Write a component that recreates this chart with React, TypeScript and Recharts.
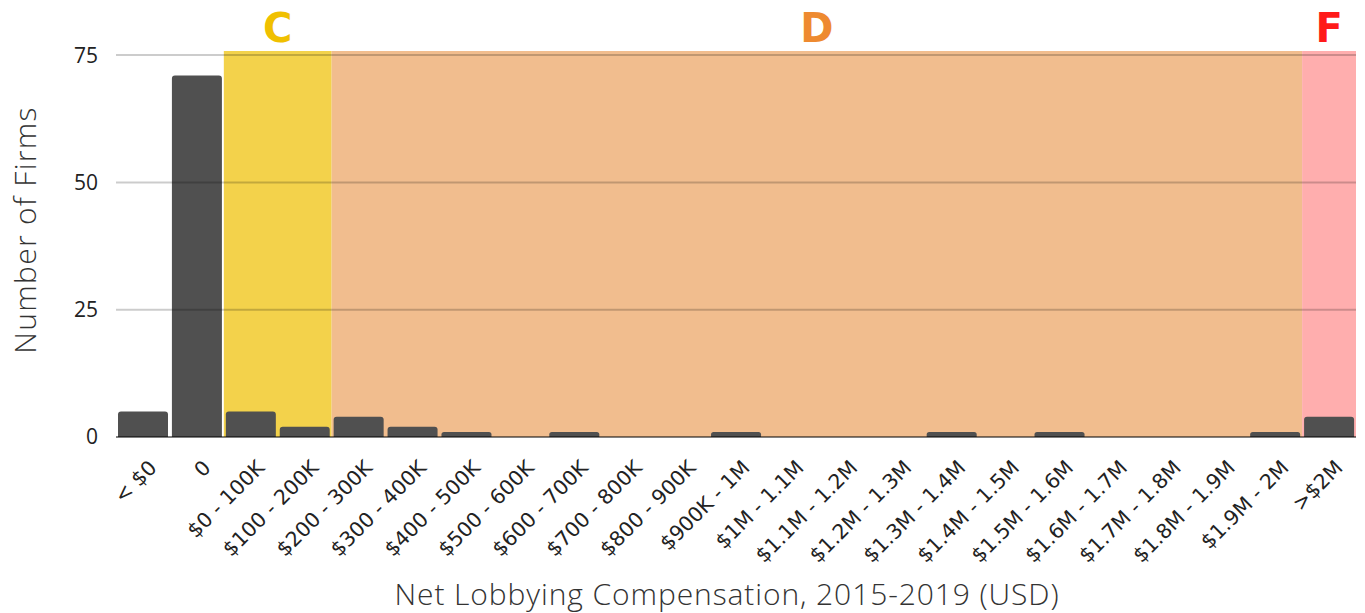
import React from 'react';
import { BarChart, Bar, XAxis, YAxis, ReferenceArea, ReferenceLine, Label } from 'recharts';

// compensation buckets shown on the x axis
const categories = [
  '< $0', '0', '$0 - 100K', '$100 - 200K', '$200 - 300K', '$300 - 400K', '$400 - 500K',
  '$500 - 600K', '$600 - 700K', '$700 - 800K', '$800 - 900K', '$900K - 1M', '$1M - 1.1M',
  '$1.1M - 1.2M', '$1.2M - 1.3M', '$1.3M - 1.4M', '$1.4M - 1.5M', '$1.5M - 1.6M',
  '$1.6M - 1.7M', '$1.7M - 1.8M', '$1.8M - 1.9M', '$1.9M - 2M', '>$2M',
];

const firmCounts = [5, 71, 5, 2, 4, 2, 1, 0, 1, 0, 0, 1, 0, 0, 0, 1, 0, 1, 0, 0, 0, 1, 4];

const yTicks = [0, 25, 50, 75];

// grade bands: first and last bucket covered
const gradeBands = [
  { grade: 'C', from: '$0 - 100K', to: '$100 - 200K', fill: '#f3d24b', text: '#f0c000' },
  { grade: 'D', from: '$200 - 300K', to: '$1.9M - 2M', fill: '#f1bd8e', text: '#ee8a30' },
  { grade: 'F', from: '>$2M', to: '>$2M', fill: '#ffaeae', text: '#ff1a1a' },
];

const data = categories.map((c, i) => ({ bucket: c, firms: firmCounts[i] }));

const TICK_FONT = '"DejaVu Sans", sans-serif';
const TITLE_FONT = '"Open Sans", sans-serif';

const AngledTick = (props: any) => {
  const { x, y, payload } = props;
  return (
    <g transform={`translate(${x + 15},${y + 32})`}>
      <text textAnchor="end" transform="rotate(-45)" fontSize={20.5} fill="#222" fontFamily={TICK_FONT}>
        {payload.value}
      </text>
    </g>
  );
};

const YTitle = (props: any) => {
  const { viewBox } = props;
  const x = viewBox.x + 28;
  const y = viewBox.y + viewBox.height / 2 - 14;
  return (
    <text x={x} y={y} transform={`rotate(-90, ${x}, ${y})`} textAnchor="middle"
      fontSize={30} fontWeight={300} letterSpacing={1.3} fill="#333" fontFamily={TITLE_FONT}>
      Number of Firms
    </text>
  );
};

export default function App() {
  return (
    <div style={{ fontFamily: TITLE_FONT }}>
      <BarChart width={1357} height={605} data={data} margin={{ top: 43, right: 9, bottom: 0, left: 0 }}>
        <XAxis
          dataKey="bucket"
          interval={0}
          height={176}
          tick={<AngledTick />}
          tickSize={0}
          tickMargin={0}
          axisLine={{ stroke: 'rgba(0,0,0,0.5)', strokeWidth: 2 }}
        >
          <Label value="Net Lobbying Compensation, 2015-2019 (USD)" position="insideBottom" offset={8} dx={-9}
            style={{ fontSize: 30, fontWeight: 300, letterSpacing: 0.9, fill: '#333', fontFamily: TITLE_FONT }} />
        </XAxis>
        <YAxis
          width={108}
          domain={[0, 75.8]}
          ticks={yTicks}
          allowDataOverflow
          axisLine={false}
          tickLine={false}
          tickSize={0}
          tickMargin={18}
          tick={{ fontSize: 21, fill: '#222', fontFamily: TITLE_FONT }}
          label={<YTitle />}
        />
        {gradeBands.map((b) => (
          <ReferenceArea
            key={b.grade}
            x1={b.from}
            x2={b.to}
            fill={b.fill}
            fillOpacity={1}
            stroke="none"
            ifOverflow="visible"
          >
            <Label value={b.grade} position="top" offset={9}
              style={{ fontSize: 40, fontWeight: 'bold', fill: b.text, fontFamily: TICK_FONT }} />
          </ReferenceArea>
        ))}
        {yTicks.filter((t) => t > 0).map((t) => (
          <ReferenceLine key={t} y={t} stroke="rgba(0,0,0,0.2)" strokeWidth={2} ifOverflow="visible" />
        ))}
        <Bar dataKey="firms" fill="#505050" barSize={50} radius={[3, 3, 0, 0]} isAnimationActive={false} />
      </BarChart>
    </div>
  );
}
